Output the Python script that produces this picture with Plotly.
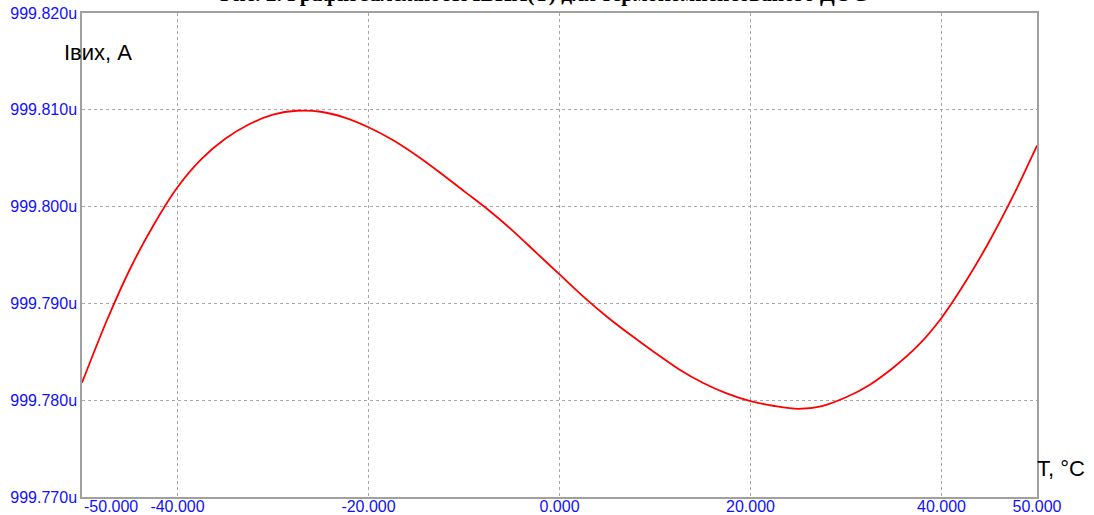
import plotly.graph_objects as go

# Temperature, °C
temp_c = [-50, -47.5, -45, -42.5, -40, -37.5, -35, -32.5, -30, -27.5, -25, -22.5, -20, -17.5, -15, -12.5,
          -10, -7.5, -5, -2.5, 0, 2.5, 5, 7.5, 10, 12.5, 15, 17.5, 20, 22.5, 25, 27.5, 30, 32.5, 35, 37.5,
          40, 42.5, 45, 47.5, 50]
# Output current, µA
i_out_ua = [999.7818, 999.7880, 999.7935, 999.7981, 999.8020, 999.8049, 999.8070, 999.8085, 999.8095,
            999.8099, 999.8098, 999.8092, 999.8082, 999.8069, 999.8053, 999.8035, 999.8016, 999.7997,
            999.7976, 999.7953, 999.7930, 999.7907, 999.7886, 999.7867, 999.7849, 999.7832, 999.7818,
            999.7807, 999.7799, 999.7794, 999.7791, 999.7794, 999.7803, 999.7816, 999.7834, 999.7856,
            999.7885, 999.7922, 999.7964, 999.8011, 999.8063]

x_tick_vals = [-40, -20, 0, 20, 40, 50]
x_tick_text = ["-40.000", "-20.000", "0.000", "20.000", "40.000", "50.000"]
y_tick_vals = [999.77, 999.78, 999.79, 999.80, 999.81, 999.82]
y_tick_text = ["999.770u", "999.780u", "999.790u", "999.800u", "999.810u", "999.820u"]

title_text = "Рис. 2. Графік залежності IВИХ(T) для термокомпенсованого ДОС"

W, H = 1094, 515
ML, MR, MT, MB = 82, 57, 13, 18
PW = W - ML - MR
PH = H - MT - MB

label_font = "Liberation Sans, Arial"

fig = go.Figure()
fig.add_trace(go.Scatter(
    x=temp_c, y=i_out_ua, mode="lines",
    line=dict(color="#ff0000", width=1.8, shape="spline", smoothing=0.8),
    hoverinfo="skip", showlegend=False,
))

axis_common = dict(
    showgrid=True, gridcolor="#a8a8a8", griddash="3px,3px", gridwidth=1,
    showline=True, linecolor="#a0a0a0", linewidth=1.5, mirror=True,
    zeroline=False, ticks="outside", ticklen=0,
    tickfont=dict(family="Liberation Sans, Arial", size=16, color="#1010ff"),
)

fig.update_xaxes(range=[-50, 50], tickmode="array", tickvals=x_tick_vals, ticktext=x_tick_text,
                 ticklabelstandoff=-6, **axis_common)
fig.update_yaxes(range=[999.77, 999.82], tickmode="array", tickvals=y_tick_vals, ticktext=y_tick_text,
                 ticklabelstandoff=0, **axis_common)

annotations = [
    dict(x=-50, y=0, xref="x", yref="paper", text="-50.000", showarrow=False,
         xanchor="left", yanchor="top", yshift=1, xshift=0,
         font=dict(family="Liberation Sans, Arial", size=16, color="#1010ff")),
    dict(x=-20 / PW, y=1 - 39 / PH, xref="paper", yref="paper",
         text="Iвих, A", showarrow=False, xanchor="left", yanchor="middle",
         font=dict(family=label_font, size=22, color="#000000")),
    dict(x=1.0, y=29 / PH, xref="paper", yref="paper",
         text="T, °C", showarrow=False, xanchor="left", yanchor="middle", xshift=-2,
         font=dict(family=label_font, size=22, color="#000000")),
    dict(x=(543 - ML) / PW, y=1 + 5 / PH, xref="paper", yref="paper",
         text="<b>" + title_text + "</b>", showarrow=False, xanchor="center", yanchor="bottom",
         font=dict(family="Liberation Serif, Times New Roman", size=21.5, color="#000000")),
]

fig.update_layout(
    width=W, height=H,
    margin=dict(l=ML, r=MR, t=MT, b=MB, autoexpand=False),
    paper_bgcolor="#ffffff", plot_bgcolor="#ffffff",
    annotations=annotations,
)

fig.write_html("out.html", config={"displayModeBar": False},
               post_script="document.body.style.margin='0px';document.body.style.overflow='hidden';")
